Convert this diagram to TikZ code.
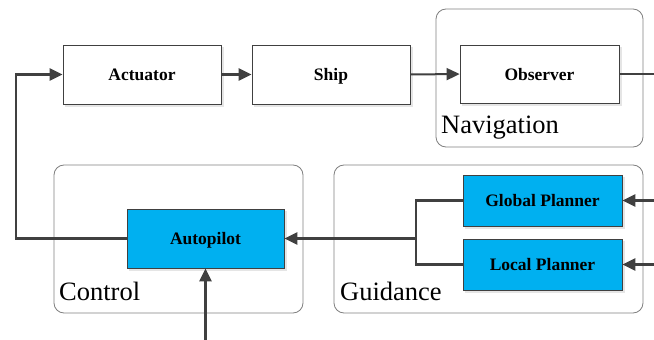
\documentclass[tikz,border=0pt]{standalone}
\usepackage{fontspec}
\setmainfont{Liberation Serif}
\usetikzlibrary{arrows.meta,calc}
\definecolor{linegray}{HTML}{404040}
\definecolor{groupgray}{HTML}{808080}
\definecolor{planblue}{HTML}{00B0F0}

\begin{document}
\begin{tikzpicture}[x=1pt,y=-1pt,
  block/.style={draw=linegray, line width=0.8pt, fill=white, inner sep=0pt,
    font=\fontsize{17.5}{20}\selectfont\bfseries,
    text height=13pt, text depth=1pt,
    minimum width=158pt, minimum height=59pt},
  blueblock/.style={block, fill=planblue},
  shade/.style={fill=black!10, draw=none},
  groupbox/.style={draw=groupgray, line width=0.8pt, rounded corners=10pt},
  grouplabel/.style={font=\fontsize{26.5}{30}\selectfont, inner sep=0pt, anchor=base west},
  conn/.style={draw=linegray, line width=2.8pt},
  arr/.style={conn, -{Triangle[length=13pt,width=12pt]}}
]
\useasboundingbox (0,0) rectangle (654,340);
\fill[white] (0,0) rectangle (654,340);

% group frames
\draw[groupbox] (436,9) rectangle (643,147);
\draw[groupbox] (334,165) rectangle (643,313);
\draw[groupbox] (54,165) rectangle (303,313);
\node[grouplabel] (navlabel) at (441,133) {Navigation};
\node[grouplabel] (guidlabel) at (340,300) {Guidance};
\node[grouplabel] (ctrllabel) at (59,300) {Control};

% soft shadows behind blocks
\fill[shade] (65,47) rectangle (224,107);
\fill[shade] (254,47) rectangle (413,107);
\fill[shade] (462,47) rectangle (622,106);
\fill[shade] (465,177) rectangle (625,229);
\fill[shade] (465,241) rectangle (625,293);
\fill[shade] (129,211) rectangle (287,271);

% blocks
\node[block] (act) at (142,74.5) {Actuator};
\node[block] (ship) at (331,74.5) {Ship};
\node[block, minimum width=159pt, minimum height=58pt] (obs) at (539.5,74) {Observer};
\node[blueblock, minimum width=159pt, minimum height=51pt] (glob) at (542.5,200.5) {Global Planner};
\node[blueblock, minimum width=159pt, minimum height=51pt] (loc) at (542.5,264.5) {Local Planner};
\node[blueblock, minimum width=157pt] (auto) at (205.5,238.5) {Autopilot};

% free ends at the picture border
\coordinate (navout) at (654,74);
\coordinate (globin) at (654,200.5);
\coordinate (locin) at (654,264.5);
\coordinate (refin) at (205.5,340);
\coordinate (merge) at (416,238.5);
\coordinate (fbcorner) at (16,238.5);

% connectors
\draw[arr] (act.east) -- (ship.west);
\draw[arr, line width=2pt] (ship.east) -- (obs.west);
\draw[conn] (obs.east) -- (navout);
\draw[arr] (globin) -- (glob.east);
\draw[arr] (locin) -- (loc.east);
\draw[conn] (glob.west) -| (merge) |- (loc.west);
\draw[arr] (merge) -- (auto.east);
\draw[arr] (auto.west) -- (fbcorner) |- (act.west);
\draw[arr] (refin) -- (auto.south);
\end{tikzpicture}
\end{document}
